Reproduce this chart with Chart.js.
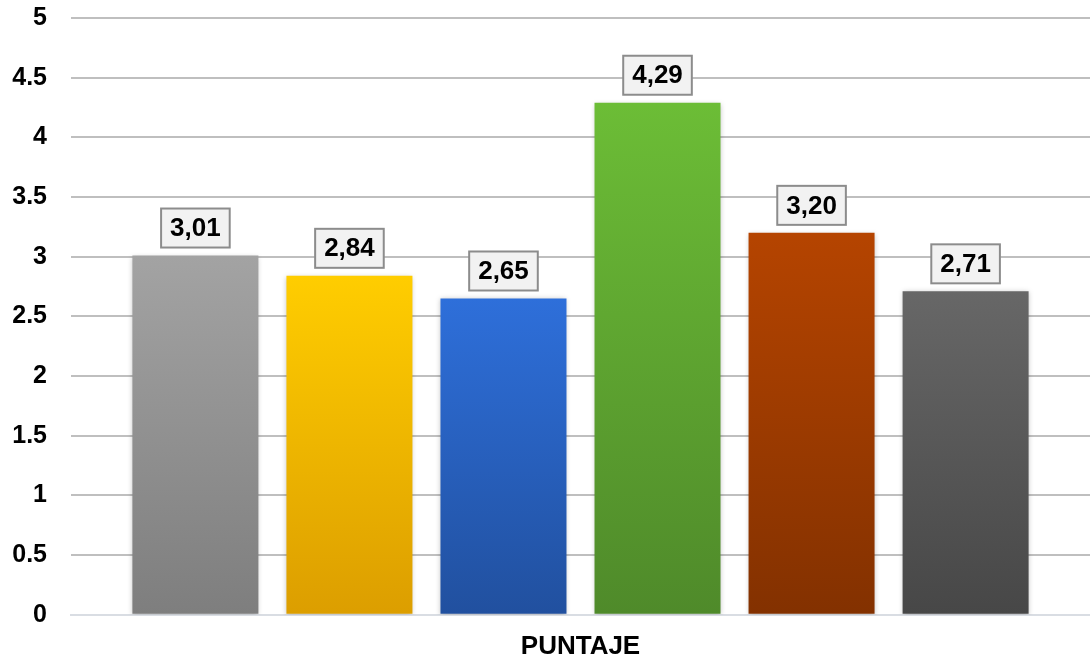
<!DOCTYPE html>
<html>
<head>
<meta charset="utf-8">
<script src="https://cdn.jsdelivr.net/npm/chart.js@4"></script>
<style>
  html, body { margin: 0; padding: 0; background: #fff; }
  #wrap { width: 1090px; height: 661px; }
</style>
</head>
<body>
<div id="wrap"><canvas id="chart"></canvas></div>
<script>
const categories = ['PUNTAJE'];
const seriesNames = ['Serie 1', 'Serie 2', 'Serie 3', 'Serie 4', 'Serie 5', 'Serie 6'];
const seriesValues = [3.01, 2.84, 2.65, 4.29, 3.20, 2.71];
const yTicks = [0, 0.5, 1, 1.5, 2, 2.5, 3, 3.5, 4, 4.5, 5];

// top / bottom colours of each bar gradient
const topColors = ['#a3a3a3', '#ffcd00', '#2e6fda', '#6cbd36', '#b54400', '#676767'];
const bottomColors = ['#7e7e7e', '#dc9e00', '#21509f', '#4f8a2a', '#833100', '#474747'];

const font = 'Liberation Sans, Arial, sans-serif';

function gradient(i) {
  return (context) => {
    const chart = context.chart;
    const area = chart.chartArea;
    if (!area) return topColors[i];
    const y = chart.scales.y;
    const g = chart.ctx.createLinearGradient(0, y.getPixelForValue(seriesValues[i]), 0, y.getPixelForValue(0));
    g.addColorStop(0, topColors[i]);
    g.addColorStop(1, bottomColors[i]);
    return g;
  };
}

const barShadow = {
  id: 'barShadow',
  beforeDatasetsDraw(chart) {
    chart.ctx.save();
    chart.ctx.shadowColor = 'rgba(0,0,0,0.25)';
    chart.ctx.shadowBlur = 5;
    chart.ctx.shadowOffsetX = 0;
    chart.ctx.shadowOffsetY = 1;
  },
  afterDatasetsDraw(chart) {
    chart.ctx.restore();
  }
};

const valueBoxes = {
  id: 'valueBoxes',
  afterDatasetsDraw(chart) {
    const ctx = chart.ctx;
    ctx.save();
    ctx.font = 'bold 26px ' + font;
    ctx.textAlign = 'center';
    ctx.textBaseline = 'middle';
    chart.data.datasets.forEach((ds, i) => {
      const bar = chart.getDatasetMeta(i).data[0];
      const text = ds.data[0].toFixed(2).replace('.', ',');
      const w = ctx.measureText(text).width + 18;
      const h = 39;
      const x = bar.x - w / 2;
      const y = bar.y - 8 - h;
      ctx.fillStyle = '#f2f2f2';
      ctx.fillRect(x, y, w, h);
      ctx.strokeStyle = '#8c8c8c';
      ctx.lineWidth = 2;
      ctx.strokeRect(x, y, w, h);
      ctx.fillStyle = '#000';
      ctx.fillText(text, bar.x, y + h / 2 + 1);
    });
    ctx.restore();
  }
};

new Chart(document.getElementById('chart'), {
  type: 'bar',
  data: {
    labels: categories,
    datasets: seriesNames.map((name, i) => ({
      label: name,
      data: [seriesValues[i]],
      backgroundColor: gradient(i),
      borderWidth: 0,
      categoryPercentage: 0.907,
      barPercentage: 0.818,
    })),
  },
  options: {
    responsive: true,
    maintainAspectRatio: false,
    animation: false,
    layout: { padding: { top: 0, right: 0, bottom: -17, left: 0 } },
    plugins: {
      legend: { display: false },
      tooltip: { enabled: false },
    },
    scales: {
      x: {
        grid: { display: false, drawTicks: false },
        border: { display: true, color: '#d9dde3', width: 2 },
        ticks: {
          color: '#000',
          padding: 16,
          font: { family: font, size: 26, weight: 'bold' },
        },
      },
      y: {
        min: 0,
        max: 5,
        afterBuildTicks: (axis) => { axis.ticks = yTicks.map(v => ({ value: v })); },
        afterFit: (axis) => {
          axis.width = 71;
          axis.paddingTop = 18;
          axis.paddingBottom = 0;
        },
        grid: { color: '#bfbfbf', lineWidth: 2, drawTicks: false },
        border: { display: false },
        ticks: {
          color: '#000',
          padding: 24,
          font: { family: font, size: 25, weight: 'bold' },
          callback: (v) => String(v),
        },
      },
    },
  },
  plugins: [barShadow, valueBoxes],
});
</script>
</body>
</html>
